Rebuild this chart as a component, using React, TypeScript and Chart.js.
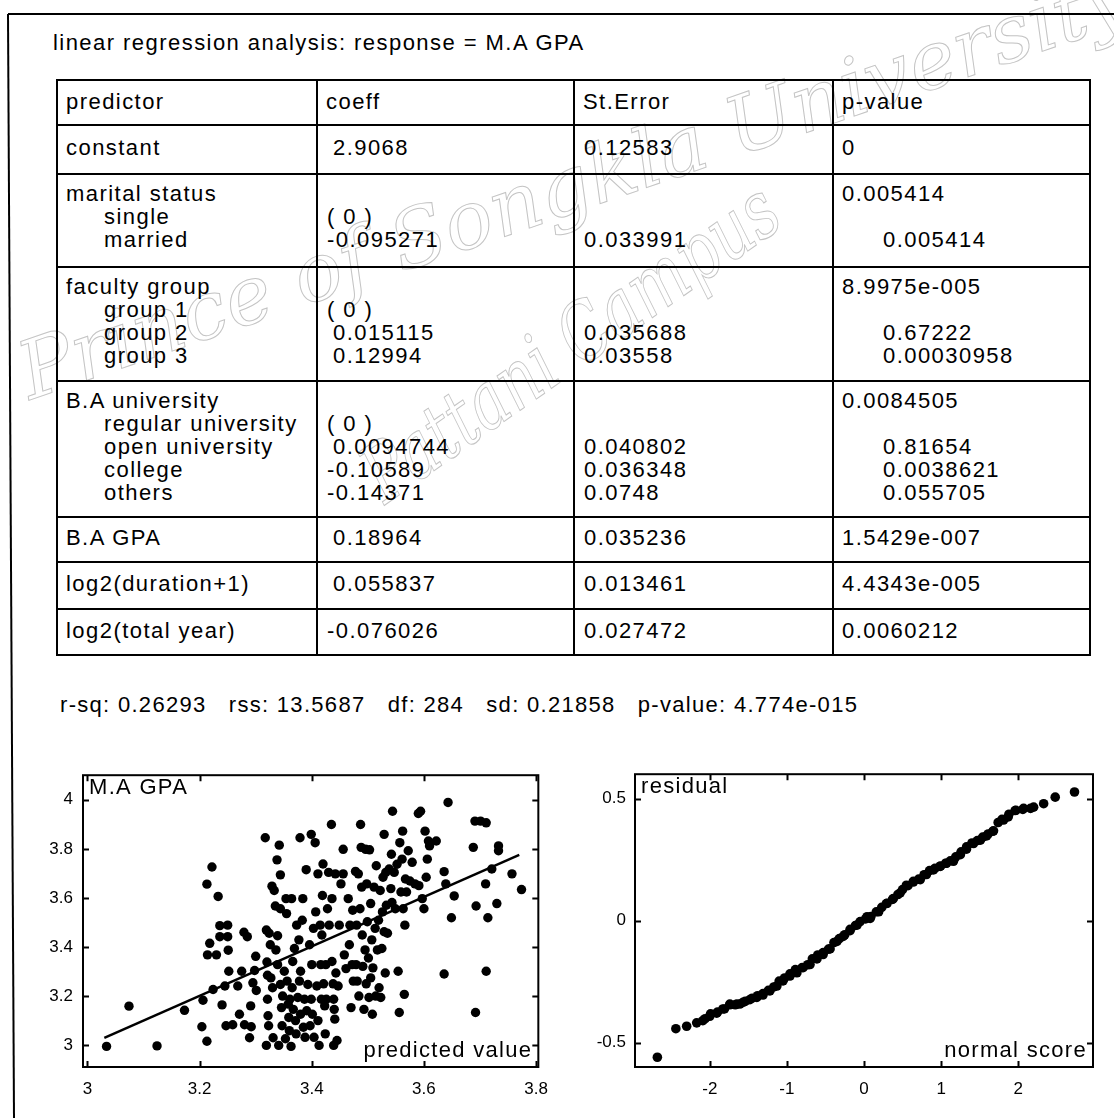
import React, { useEffect, useRef } from "react";
import { Chart, registerables } from "chart.js";

Chart.register(...registerables);

const FONT = "'Liberation Sans', Arial, Helvetica, sans-serif";

// ---------- text content ----------
const titleText = "linear regression analysis: response = M.A GPA";
const tableHeaders = ["predictor", "coeff", "St.Error", "p-value"];
const predictorNames = ["constant", "marital status", "faculty group", "B.A university", "B.A GPA", "log2(duration+1)", "log2(total year)"];
const predictorLevels = [[], ["single", "married"], ["group 1", "group 2", "group 3"], ["regular university", "open university", "college", "others"], [], [], []];
const coeffValues = [["2.9068"], ["( 0 )", "-0.095271"], ["( 0 )", "0.015115", "0.12994"], ["( 0 )", "0.0094744", "-0.10589", "-0.14371"], ["0.18964"], ["0.055837"], ["-0.076026"]];
const stErrorValues = [["0.12583"], ["", "0.033991"], ["", "0.035688", "0.03558"], ["", "0.040802", "0.036348", "0.0748"], ["0.035236"], ["0.013461"], ["0.027472"]];
const overallPValues = ["0", "0.005414", "8.9975e-005", "0.0084505", "1.5429e-007", "4.4343e-005", "0.0060212"];
const levelPValues = [[], ["", "0.005414"], ["", "0.67222", "0.00030958"], ["", "0.81654", "0.0038621", "0.055705"], [], [], []];
const statLabels = ["r-sq", "rss", "df", "sd", "p-value"];
const statValues = ["0.26293", "13.5687", "284", "0.21858", "4.774e-015"];

// ---------- scatter: M.A GPA vs predicted value ----------
const predictedValue = [
  3.034, 3.074, 3.124, 3.173, 3.204, 3.206, 3.213, 3.213, 3.214, 3.218,
  3.222, 3.224, 3.230, 3.233, 3.236, 3.236, 3.240, 3.245, 3.247, 3.250,
  3.250, 3.251, 3.252, 3.259, 3.268, 3.271, 3.275, 3.279, 3.280, 3.285,
  3.289, 3.291, 3.292, 3.295, 3.298, 3.300, 3.301, 3.317, 3.319, 3.319,
  3.320, 3.321, 3.321, 3.322, 3.323, 3.324, 3.326, 3.327, 3.329, 3.330,
  3.331, 3.333, 3.335, 3.336, 3.338, 3.339, 3.339, 3.341, 3.342, 3.344,
  3.344, 3.344, 3.346, 3.347, 3.348, 3.351, 3.353, 3.354, 3.355, 3.356,
  3.358, 3.359, 3.360, 3.361, 3.363, 3.364, 3.365, 3.366, 3.367, 3.369,
  3.371, 3.372, 3.373, 3.375, 3.377, 3.378, 3.379, 3.380, 3.380, 3.383,
  3.384, 3.385, 3.387, 3.388, 3.390, 3.391, 3.393, 3.396, 3.397, 3.399,
  3.399, 3.400, 3.401, 3.403, 3.404, 3.406, 3.407, 3.409, 3.411, 3.411,
  3.413, 3.415, 3.416, 3.417, 3.418, 3.419, 3.420, 3.421, 3.423, 3.424,
  3.425, 3.426, 3.428, 3.430, 3.431, 3.435, 3.436, 3.436, 3.438, 3.439,
  3.439, 3.440, 3.441, 3.442, 3.443, 3.445, 3.447, 3.449, 3.452, 3.456,
  3.456, 3.458, 3.461, 3.465, 3.467, 3.468, 3.470, 3.472, 3.473, 3.474,
  3.478, 3.479, 3.480, 3.481, 3.483, 3.484, 3.486, 3.487, 3.488, 3.489,
  3.490, 3.491, 3.493, 3.495, 3.496, 3.497, 3.498, 3.499, 3.501, 3.502,
  3.503, 3.505, 3.505, 3.507, 3.508, 3.509, 3.511, 3.513, 3.514, 3.515,
  3.517, 3.519, 3.520, 3.522, 3.523, 3.525, 3.526, 3.527, 3.529, 3.529,
  3.531, 3.532, 3.533, 3.535, 3.538, 3.541, 3.542, 3.543, 3.544, 3.547,
  3.549, 3.552, 3.554, 3.556, 3.557, 3.559, 3.561, 3.562, 3.563, 3.565,
  3.566, 3.567, 3.569, 3.572, 3.575, 3.579, 3.584, 3.590, 3.591, 3.594,
  3.597, 3.600, 3.602, 3.604, 3.606, 3.608, 3.610, 3.622, 3.636, 3.636,
  3.639, 3.643, 3.649, 3.654, 3.688, 3.691, 3.692, 3.693, 3.701, 3.710,
  3.711, 3.711, 3.714, 3.721, 3.730, 3.733, 3.733, 3.757, 3.774,
];
const maGpa = [
  2.995, 3.159, 2.997, 3.142, 3.075, 3.183, 3.656, 3.016, 3.368, 3.415,
  3.726, 3.227, 3.368, 3.606, 3.487, 3.442, 3.164, 3.241, 3.079, 3.489,
  3.442, 3.387, 3.301, 3.083, 3.241, 3.126, 3.301, 3.460, 3.083, 3.442,
  3.030, 3.160, 3.075, 3.254, 3.304, 3.362, 3.223, 3.845, 3.469, 2.999,
  3.339, 3.285, 3.187, 3.120, 3.079, 3.456, 3.409, 3.274, 3.648, 3.234,
  3.030, 3.630, 3.567, 3.388, 3.755, 3.446, 3.328, 2.999, 3.815, 3.694,
  3.556, 3.247, 3.153, 3.079, 3.200, 3.301, 3.026, 3.597, 3.536, 3.261,
  3.167, 3.113, 3.059, 3.187, 2.995, 3.597, 3.234, 3.341, 3.146, 3.394,
  3.100, 3.046, 3.489, 3.194, 3.429, 3.261, 3.845, 3.301, 3.126, 3.509,
  3.597, 3.073, 3.187, 3.032, 3.715, 3.140, 3.247, 3.409, 3.079, 3.859,
  3.187, 3.328, 3.126, 3.476, 3.032, 3.825, 3.543, 3.241, 3.100, 3.698,
  2.999, 3.489, 3.328, 3.187, 3.449, 3.610, 3.738, 3.250, 3.160, 3.046,
  3.328, 3.187, 3.556, 3.704, 3.489, 3.899, 3.597, 3.341, 3.250, 3.187,
  2.999, 3.146, 3.106, 3.698, 3.294, 3.019, 3.241, 3.489, 3.657, 3.798,
  3.698, 3.368, 3.312, 3.597, 3.409, 3.489, 3.153, 3.328, 3.550, 3.261,
  3.708, 3.328, 3.489, 3.261, 3.698, 3.200, 3.556, 3.899, 3.806, 3.644,
  3.449, 3.321, 3.146, 3.388, 3.798, 3.250, 3.657, 3.503, 3.355, 3.194,
  3.796, 3.577, 3.274, 3.429, 3.126, 3.315, 3.644, 3.476, 3.200, 3.731,
  3.388, 3.509, 3.234, 3.630, 3.194, 3.394, 3.543, 3.684, 3.462, 3.859,
  3.294, 3.704, 3.570, 3.456, 3.718, 3.638, 3.778, 3.581, 3.953, 3.704,
  3.556, 3.737, 3.301, 3.133, 3.825, 3.624, 3.758, 3.872, 3.556, 3.207,
  3.489, 3.677, 3.624, 3.792, 3.669, 3.745, 3.657, 3.944, 3.650, 3.953,
  3.597, 3.556, 3.872, 3.684, 3.758, 3.832, 3.812, 3.832, 3.707, 3.290,
  3.657, 3.989, 3.519, 3.608, 3.806, 3.913, 3.133, 3.567, 3.913, 3.657,
  3.301, 3.906, 3.519, 3.718, 3.577, 3.812, 3.792, 3.698, 3.634,
];
const fitLineX = [3.03, 3.77];
const fitLineY = [3.03, 3.775];
const scatterXTicks = [3, 3.2, 3.4, 3.6, 3.8];
const scatterXLabels = ["3", "3.2", "3.4", "3.6", "3.8"];
const scatterYTicks = [3, 3.2, 3.4, 3.6, 3.8, 4];
const scatterYLabels = ["3", "3.2", "3.4", "3.6", "3.8", "4"];

// ---------- normal probability plot of residuals ----------
const normalScore = [
  -2.68, -2.44, -2.30, -2.17, -2.09, -2.06, -2.00, -1.99, -1.91, -1.90,
  -1.83, -1.81, -1.74, -1.74, -1.67, -1.65, -1.61, -1.57, -1.54, -1.48,
  -1.45, -1.39, -1.38, -1.31, -1.31, -1.24, -1.22, -1.17, -1.13, -1.10,
  -1.05, -1.03, -0.96, -0.96, -0.89, -0.87, -0.80, -0.79, -0.73, -0.70,
  -0.67, -0.61, -0.60, -0.53, -0.53, -0.46, -0.44, -0.39, -0.35, -0.32,
  -0.27, -0.25, -0.18, -0.18, -0.11, -0.09, -0.05, 0.02, 0.04, 0.08,
  0.09, 0.16, 0.19, 0.23, 0.29, 0.30, 0.37, 0.38, 0.44, 0.47,
  0.50, 0.55, 0.57, 0.64, 0.64, 0.71, 0.73, 0.78, 0.81, 0.85,
  0.90, 0.92, 0.99, 0.99, 1.06, 1.07, 1.12, 1.16, 1.19, 1.25,
  1.26, 1.33, 1.33, 1.40, 1.42, 1.47, 1.51, 1.54, 1.59, 1.61,
  1.67, 1.68, 1.74, 1.79, 1.81, 1.87, 1.88, 1.96, 1.97, 2.06,
  2.07, 2.16, 2.20, 2.33, 2.48, 2.73,
];
const residual = [
  -0.560, -0.443, -0.433, -0.419, -0.410, -0.402, -0.392, -0.382, -0.379, -0.375,
  -0.362, -0.362, -0.342, -0.345, -0.345, -0.342, -0.342, -0.335, -0.331, -0.324,
  -0.318, -0.315, -0.308, -0.305, -0.299, -0.286, -0.288, -0.272, -0.268, -0.248,
  -0.247, -0.235, -0.227, -0.218, -0.201, -0.214, -0.192, -0.193, -0.181, -0.180,
  -0.157, -0.157, -0.141, -0.139, -0.131, -0.117, -0.116, -0.090, -0.085, -0.074,
  -0.065, -0.058, -0.041, -0.036, -0.020, -0.018, -0.004, 0.007, 0.016, 0.009,
  0.017, 0.036, 0.036, 0.054, 0.070, 0.071, 0.087, 0.090, 0.107, 0.114,
  0.127, 0.145, 0.143, 0.161, 0.158, 0.170, 0.168, 0.188, 0.189, 0.205,
  0.208, 0.214, 0.224, 0.222, 0.235, 0.235, 0.245, 0.243, 0.261, 0.270,
  0.282, 0.302, 0.293, 0.318, 0.316, 0.328, 0.330, 0.342, 0.347, 0.355,
  0.366, 0.368, 0.402, 0.415, 0.412, 0.425, 0.436, 0.451, 0.452, 0.456,
  0.460, 0.460, 0.465, 0.479, 0.506, 0.527,
];
const qqXTicks = [-2, -1, 0, 1, 2];
const qqXLabels = ["-2", "-1", "0", "1", "2"];
const qqYTicks = [-0.5, 0, 0.5];
const qqYLabels = ["-0.5", "0", "0.5"];

// ---------- chart plumbing ----------
const frameTicksPlugin = {
  id: "frameTicks",
  afterDraw(chart: any, _args: any, opts: any) {
    const { ctx, chartArea: a, scales } = chart;
    ctx.save();
    ctx.strokeStyle = "#000";
    ctx.lineWidth = 2;
    ctx.strokeRect(a.left, a.top, a.right - a.left, a.bottom - a.top);
    const len = 6;
    ctx.beginPath();
    scales.x.ticks.forEach((t: any) => {
      const x = Math.round(scales.x.getPixelForValue(t.value)) + 0.5;
      ctx.moveTo(x, a.top); ctx.lineTo(x, a.top + len);
      ctx.moveTo(x, a.bottom); ctx.lineTo(x, a.bottom - len);
    });
    scales.y.ticks.forEach((t: any) => {
      const y = Math.round(scales.y.getPixelForValue(t.value)) + 0.5;
      ctx.moveTo(a.left, y); ctx.lineTo(a.left + len, y);
      ctx.moveTo(a.right, y); ctx.lineTo(a.right - len, y);
    });
    ctx.stroke();
    ctx.fillStyle = "#000";
    ctx.font = `22px ${FONT}`;
    (ctx as any).letterSpacing = "1.3px";
    ctx.textBaseline = "alphabetic";
    ctx.textAlign = "left";
    ctx.fillText(opts.topLabel, a.left + 6, a.top + 19);
    ctx.textAlign = "right";
    ctx.fillText(opts.bottomLabel, a.right - 6, a.bottom - 10);
    ctx.restore();
  },
};

function panelConfig(p: any) {
  const datasets: any[] = [];
  if (p.line) {
    datasets.push({
      data: p.line,
      showLine: true,
      borderColor: "#000",
      borderWidth: 2.5,
      pointRadius: 0,
      fill: false,
    });
  }
  datasets.push({
    data: p.points,
    pointRadius: p.radius,
    pointBackgroundColor: "#000",
    pointBorderWidth: 0,
    backgroundColor: "#000",
    borderColor: "#000",
    showLine: false,
  });
  const tickFont = { family: FONT, size: 17 };
  return {
    type: "scatter",
    data: { datasets },
    options: {
      animation: false,
      responsive: false,
      devicePixelRatio: 1,
      events: [],
      layout: { padding: { top: p.padTop, right: p.padRight, left: 0, bottom: 0 } },
      plugins: {
        legend: { display: false },
        tooltip: { enabled: false },
        frameTicks: { topLabel: p.topLabel, bottomLabel: p.bottomLabel },
      },
      scales: {
        x: {
          type: "linear",
          min: p.xMin,
          max: p.xMax,
          grid: { display: false, drawTicks: false },
          border: { display: false },
          afterBuildTicks: (s: any) => { s.ticks = p.xTicks.map((v: number) => ({ value: v })); },
          afterFit: (s: any) => { s.height = p.xAxisHeight; },
          ticks: {
            padding: p.xPad,
            autoSkip: false,
            maxRotation: 0,
            color: "#000",
            font: tickFont,
            callback: (_v: any, i: number) => p.xLabels[i],
          },
        },
        y: {
          type: "linear",
          min: p.yMin,
          max: p.yMax,
          grid: { display: false, drawTicks: false },
          border: { display: false },
          afterBuildTicks: (s: any) => { s.ticks = p.yTicks.map((v: number) => ({ value: v })); },
          afterFit: (s: any) => { s.width = p.yAxisWidth; },
          ticks: {
            padding: p.yPad,
            autoSkip: false,
            color: "#000",
            font: tickFont,
            callback: (_v: any, i: number) => p.yLabels[i],
          },
        },
      },
    },
    plugins: [frameTicksPlugin],
  };
}

function ChartCanvas({ left, top, width, height, makeConfig }: any) {
  const ref = useRef<HTMLCanvasElement>(null);
  useEffect(() => {
    const chart = new Chart(ref.current as HTMLCanvasElement, makeConfig());
    return () => chart.destroy();
  }, []);
  return (
    <canvas
      ref={ref}
      width={width}
      height={height}
      style={{ position: "absolute", left, top, width, height }}
    />
  );
}

// ---------- table ----------
const colX = [57, 317, 574, 833, 1090];
const rowY = [80, 125, 174, 267, 381, 517, 562, 609, 655];
const LINE_H = 23;

const textStyle: React.CSSProperties = {
  position: "absolute",
  fontFamily: FONT,
  fontSize: 22,
  letterSpacing: "1.45px",
  lineHeight: `${LINE_H}px`,
  height: LINE_H,
  whiteSpace: "pre",
  color: "#000",
};

function T({ x, cy, ls, children }: any) {
  const extra = ls ? { letterSpacing: ls } : {};
  return <div style={{ ...textStyle, ...extra, left: x, top: cy - LINE_H / 2 }}>{children}</div>;
}

function RegressionTable() {
  const items: any[] = [];
  const headCy = (rowY[0] + rowY[1]) / 2 - 1;
  tableHeaders.forEach((h, c) => items.push({ x: colX[c] + 9, cy: headCy, t: h }));
  const coeffX = (v: string) => colX[1] + 10 + (v.startsWith("-") || v.startsWith("(") ? 0 : 6);
  predictorNames.forEach((name, i) => {
    const top = rowY[i + 1];
    const bot = rowY[i + 2];
    const levels = predictorLevels[i];
    if (levels.length === 0) {
      const cy = (top + bot) / 2 - 2;
      items.push({ x: colX[0] + 9, cy, t: name });
      items.push({ x: coeffX(coeffValues[i][0]), cy, t: coeffValues[i][0] });
      items.push({ x: colX[2] + 10, cy, t: stErrorValues[i][0] });
      items.push({ x: colX[3] + 9, cy, t: overallPValues[i] });
    } else {
      const cy0 = top + 19;
      items.push({ x: colX[0] + 9, cy: cy0, t: name });
      items.push({ x: colX[3] + 9, cy: cy0, t: overallPValues[i] });
      levels.forEach((lv, k) => {
        const cy = cy0 + LINE_H * (k + 1);
        items.push({ x: colX[0] + 47, cy, t: lv });
        const cv = coeffValues[i][k];
        if (cv) items.push({ x: coeffX(cv), cy, t: cv });
        const se = stErrorValues[i][k];
        if (se) items.push({ x: colX[2] + 10, cy, t: se });
        const pv = levelPValues[i][k];
        if (pv) items.push({ x: colX[3] + 50, cy, t: pv });
      });
    }
  });
  const W = colX[colX.length - 1] - colX[0];
  const H = rowY[rowY.length - 1] - rowY[0];
  return (
    <>
      {rowY.map((y, i) => (
        <div key={"h" + i} style={{ position: "absolute", left: colX[0] - 1, top: y - 1, width: W + 2, height: 2, background: "#000" }} />
      ))}
      {colX.map((x, i) => (
        <div key={"v" + i} style={{ position: "absolute", left: x - 1, top: rowY[0] - 1, width: 2, height: H + 2, background: "#000" }} />
      ))}
      {items.map((it, i) => (
        <T key={i} x={it.x} cy={it.cy}>{it.t}</T>
      ))}
    </>
  );
}

function Watermark() {
  return (
    <svg width={1114} height={1118} style={{ position: "absolute", left: 0, top: 0 }}>
      <g fill="none" stroke="#c4c4c4" strokeWidth={1} fontFamily="'DejaVu Serif', serif" fontStyle="italic" fontSize={80}>
        <text x={30} y={400} transform="rotate(-19 30 400)" textLength={1170} lengthAdjust="spacingAndGlyphs">Prince of Songkla University</text>
        <text x={385} y={505} transform="rotate(-35 385 505)" textLength={490} lengthAdjust="spacingAndGlyphs">Pattani Campus</text>
      </g>
      <line x1={8} y1={14} x2={1114} y2={14} stroke="#000" strokeWidth={2} />
      <line x1={8} y1={14} x2={14} y2={1118} stroke="#000" strokeWidth={2} />
    </svg>
  );
}

export default function App() {
  const scatterCfg = () =>
    panelConfig({
      points: predictedValue.map((x, i) => ({ x, y: maGpa[i] })),
      line: fitLineX.map((x, i) => ({ x, y: fitLineY[i] })),
      radius: 4.7,
      xMin: 2.992, xMax: 3.804, yMin: 2.911, yMax: 4.1,
      xTicks: scatterXTicks, xLabels: scatterXLabels,
      yTicks: scatterYTicks, yLabels: scatterYLabels,
      yAxisWidth: 53, xAxisHeight: 48, padTop: 16, padRight: 20,
      xPad: 12, yPad: 10,
      topLabel: "M.A GPA", bottomLabel: "predicted value",
    });
  const qqCfg = () =>
    panelConfig({
      points: normalScore.map((x, i) => ({ x, y: residual[i] })),
      radius: 4.8,
      xMin: -2.97, xMax: 2.97, yMin: -0.6, yMax: 0.6,
      xTicks: qqXTicks, xLabels: qqXLabels,
      yTicks: qqYTicks, yLabels: qqYLabels,
      yAxisWidth: 65, xAxisHeight: 48, padTop: 16, padRight: 17,
      xPad: 12, yPad: 9,
      topLabel: "residual", bottomLabel: "normal score",
    });
  const statText = statLabels.map((l, i) => `${l}: ${statValues[i]}`).join("   ");
  return (
    <div style={{ position: "absolute", left: 0, top: 0, width: 1114, height: 1118, background: "#fff", overflow: "hidden" }}>
      <Watermark />
      <T x={53} cy={42}>{titleText}</T>
      <RegressionTable />
      <T x={60} cy={704} ls="1.3px">{statText}</T>
      <ChartCanvas left={30} top={755} width={530} height={360} makeConfig={scatterCfg} />
      <ChartCanvas left={570} top={755} width={540} height={360} makeConfig={qqCfg} />
    </div>
  );
}
